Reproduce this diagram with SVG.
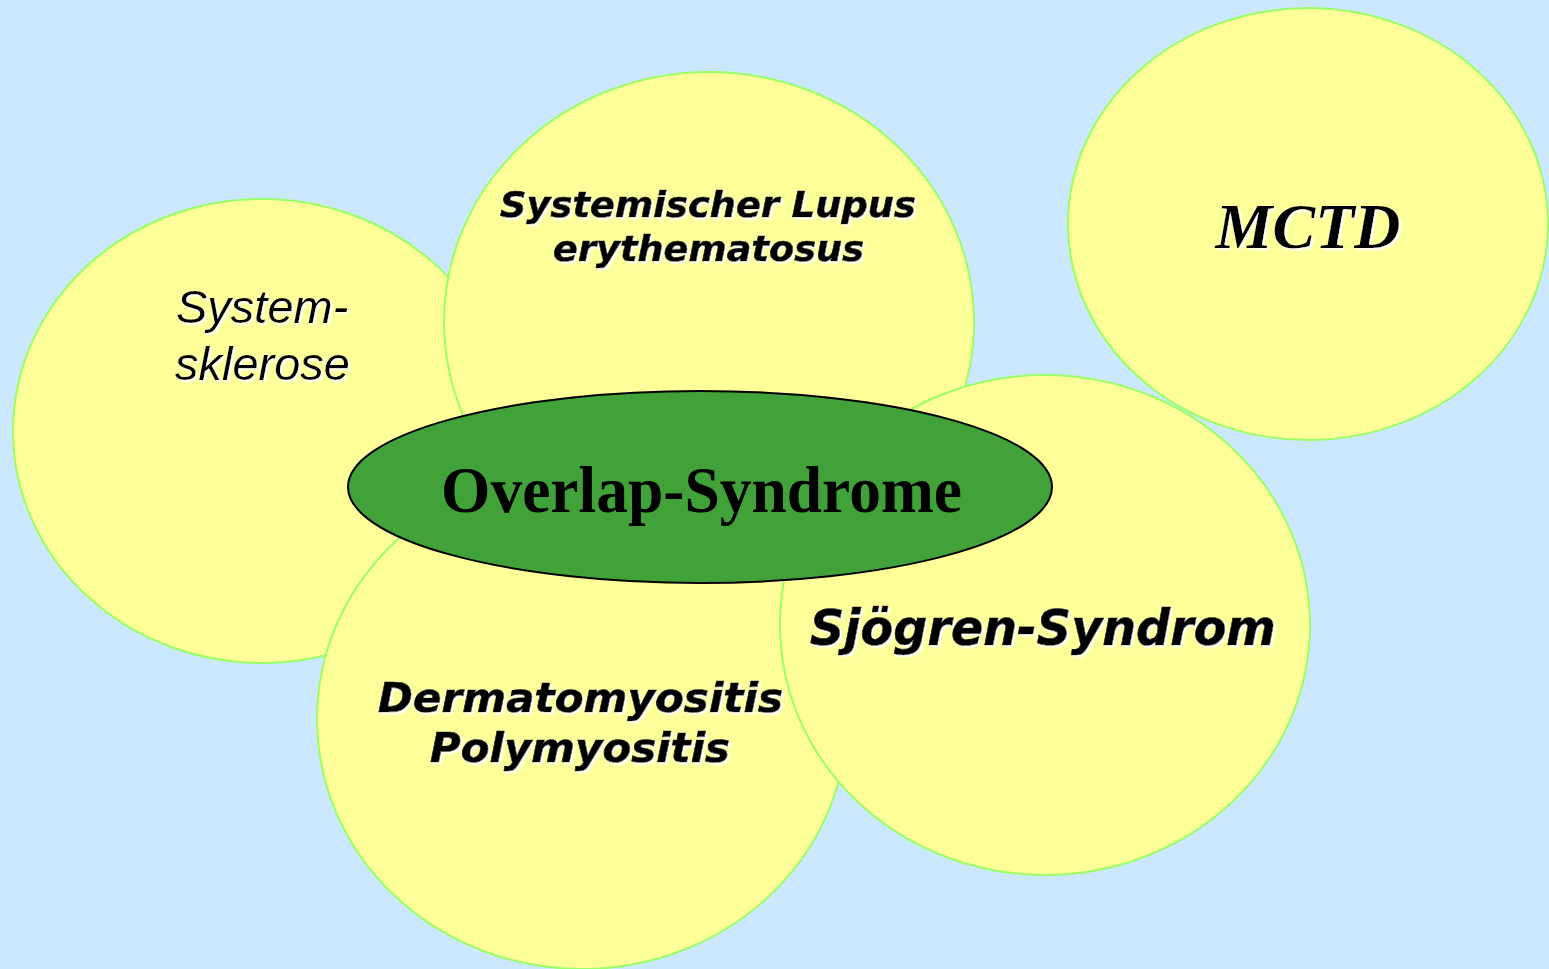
<svg xmlns="http://www.w3.org/2000/svg" width="1549" height="969" viewBox="0 0 1549 969">
<defs>
<style>
.bub{fill:#FFFF99;stroke:#99FF66;stroke-width:2}
.core{fill:#40A238;stroke:#000;stroke-width:2}
.v{font-family:"DejaVu Sans",Verdana,sans-serif;font-weight:bold;font-style:italic;fill:#000;stroke:#000;stroke-width:0.7}
.a{font-family:"Liberation Sans",Arial,sans-serif;font-style:italic;fill:#000}
.t{font-family:"Liberation Serif","Times New Roman",serif;font-weight:bold;fill:#000}
</style>
<filter id="sh" x="-10%" y="-30%" width="120%" height="160%">
<feGaussianBlur in="SourceAlpha" stdDeviation="0.8" result="b"/>
<feOffset in="b" dx="2" dy="2" result="o"/>
<feFlood flood-color="#ffffff"/>
<feComposite in2="o" operator="in" result="s"/>
<feMerge><feMergeNode in="s"/><feMergeNode in="SourceGraphic"/></feMerge>
</filter>
</defs>
<rect width="1549" height="969" fill="#CCE8FF"/>
<g id="connectors"></g>
<g id="systemsklerose">
<ellipse class="bub" cx="262" cy="431" rx="249" ry="232"/>
<g filter="url(#sh)">
<text class="a" x="176" y="323" font-size="47">System-</text>
<text class="a" x="175" y="380" font-size="47">sklerose</text>
</g>
</g>
<g id="sle">
<ellipse class="bub" cx="709" cy="322" rx="265" ry="250"/>
<g filter="url(#sh)">
<text class="v" x="500" y="217" font-size="36" textLength="416" lengthAdjust="spacingAndGlyphs">Systemischer Lupus</text>
<text class="v" x="553" y="261" font-size="36" textLength="311" lengthAdjust="spacingAndGlyphs">erythematosus</text>
</g>
</g>
<g id="mctd">
<ellipse class="bub" cx="1308" cy="224" rx="240" ry="216"/>
<text class="t" x="1308" y="248" font-size="64" font-style="italic" text-anchor="middle" filter="url(#sh)">MCTD</text>
</g>
<g id="dermatomyositis">
<ellipse class="bub" cx="582" cy="719" rx="265" ry="250"/>
<g filter="url(#sh)">
<text class="v" x="378" y="712" font-size="40" textLength="405" lengthAdjust="spacingAndGlyphs">Dermatomyositis</text>
<text class="v" x="430" y="762" font-size="40" textLength="300" lengthAdjust="spacingAndGlyphs">Polymyositis</text>
</g>
</g>
<g id="sjogren">
<ellipse class="bub" cx="1045" cy="625" rx="265" ry="250"/>
<text class="v" x="810" y="645" font-size="49" textLength="466" lengthAdjust="spacingAndGlyphs" filter="url(#sh)">Sjögren-Syndrom</text>
</g>
<g id="overlap">
<ellipse class="core" cx="700" cy="487" rx="352" ry="96"/>
<text class="t" x="441" y="512" font-size="66" textLength="521" lengthAdjust="spacingAndGlyphs">Overlap-Syndrome</text>
</g>
</svg>
